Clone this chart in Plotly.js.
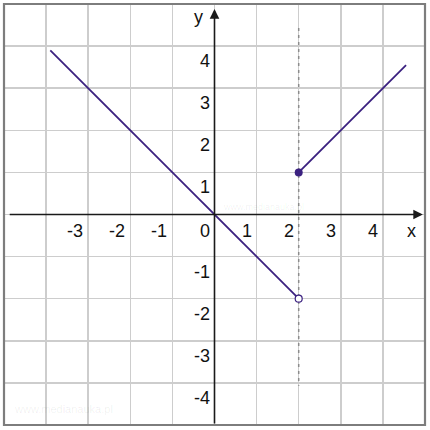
<!DOCTYPE html>
<html>
<head>
<meta charset="utf-8">
<script src="https://cdn.plot.ly/plotly-3.0.1.min.js"></script>
<style>
  html, body { margin: 0; padding: 0; background: #ffffff; }
  #chart { width: 430px; height: 430px; }
</style>
</head>
<body>
<div id="chart"></div>
<script>
// piecewise function: y = -x for x < 2, y = x - 1 for x >= 2
const leftX = [-3.9, 2];
const leftY = [3.9, -2];
const rightX = [2, 4.55];
const rightY = [1, 3.55];
const closedX = [2];
const closedY = [1];
const openX = [2];
const openY = [-2];
const dashX = [2, 2];
const dashY = [4.43, -4.07];

const xTicks = [-3, -2, -1, 0, 1, 2, 3, 4];
const yTicks = [4, 3, 2, 1, -1, -2, -3, -4];

const lineColor = '#3b2180';
const labelFont = { family: 'Liberation Sans, Arial, sans-serif', size: 18, color: '#111111' };

const traces = [
  {
    x: dashX, y: dashY, type: 'scatter', mode: 'lines',
    line: { color: '#8c8c8c', width: 1.5, dash: '3px,4px' },
    hoverinfo: 'skip'
  },
  {
    x: leftX, y: leftY, type: 'scatter', mode: 'lines',
    line: { color: lineColor, width: 1.8 },
    hoverinfo: 'skip'
  },
  {
    x: rightX, y: rightY, type: 'scatter', mode: 'lines',
    line: { color: lineColor, width: 1.8 },
    hoverinfo: 'skip'
  },
  {
    x: closedX, y: closedY, type: 'scatter', mode: 'markers',
    marker: { color: lineColor, size: 8, line: { width: 0 } },
    hoverinfo: 'skip'
  },
  {
    x: openX, y: openY, type: 'scatter', mode: 'markers',
    marker: { color: '#ffffff', size: 7, line: { color: lineColor, width: 1.2 } },
    hoverinfo: 'skip'
  }
];

const annotations = [];

// axes with arrows
annotations.push({
  x: 4.95, y: 0, ax: -4.9, ay: 0, xref: 'x', yref: 'y', axref: 'x', ayref: 'y',
  text: '', showarrow: true, arrowhead: 2, arrowsize: 1.2, arrowwidth: 1.6,
  arrowcolor: '#1a1a1a', standoff: 0
});
annotations.push({
  x: 0, y: 4.88, ax: 0, ay: -5, xref: 'x', yref: 'y', axref: 'x', ayref: 'y',
  text: '', showarrow: true, arrowhead: 2, arrowsize: 1.2, arrowwidth: 1.6,
  arrowcolor: '#1a1a1a', standoff: 0
});

// tick labels next to the axes
xTicks.forEach(function (v) {
  annotations.push({
    x: v, y: 0, xref: 'x', yref: 'y', text: String(v), showarrow: false,
    xanchor: 'right', yanchor: 'top', xshift: -3, yshift: -4, font: labelFont
  });
});
yTicks.forEach(function (v) {
  annotations.push({
    x: 0, y: v, xref: 'x', yref: 'y', text: String(v), showarrow: false,
    xanchor: 'right', yanchor: 'top', xshift: -3, yshift: -3, font: labelFont
  });
});

// axis names
annotations.push({
  x: 4.69, y: -0.39, xref: 'x', yref: 'y', text: 'x', showarrow: false,
  xanchor: 'center', yanchor: 'middle', font: labelFont
});
annotations.push({
  x: -0.37, y: 4.7, xref: 'x', yref: 'y', text: 'y', showarrow: false,
  xanchor: 'center', yanchor: 'middle', font: labelFont
});

// faint watermarks
annotations.push({
  x: 0.02, y: 0.02, xref: 'paper', yref: 'paper', text: 'www.medianauka.pl',
  showarrow: false, xanchor: 'left', yanchor: 'bottom',
  font: { family: 'Liberation Sans, Arial, sans-serif', size: 11, color: 'rgba(0,0,0,0.07)' }
});
annotations.push({
  x: 0.15, y: 0, xref: 'x', yref: 'y', text: 'www.medianauka.pl',
  showarrow: false, xanchor: 'left', yanchor: 'bottom', yshift: 1,
  font: { family: 'Liberation Sans, Arial, sans-serif', size: 9, color: 'rgba(0,0,0,0.06)' }
});

const gridAxis = {
  range: [-5, 5],
  dtick: 1,
  tick0: 0,
  showgrid: true,
  gridcolor: '#cdcdcd',
  gridwidth: 1.5,
  zeroline: false,
  showticklabels: false,
  ticks: '',
  showline: false,
  fixedrange: true
};

const layout = {
  width: 430,
  height: 430,
  margin: { l: 4, r: 5, t: 4, b: 5 },
  paper_bgcolor: '#ffffff',
  plot_bgcolor: '#ffffff',
  showlegend: false,
  xaxis: gridAxis,
  yaxis: Object.assign({}, gridAxis),
  annotations: annotations,
  shapes: [
    {
      type: 'rect', xref: 'paper', yref: 'paper', x0: 0, y0: 0, x1: 1, y1: 1,
      line: { color: '#7d7d7d', width: 2.2 }, fillcolor: 'rgba(0,0,0,0)'
    }
  ]
};

Plotly.newPlot('chart', traces, layout, { displayModeBar: false, staticPlot: true });
</script>
</body>
</html>
